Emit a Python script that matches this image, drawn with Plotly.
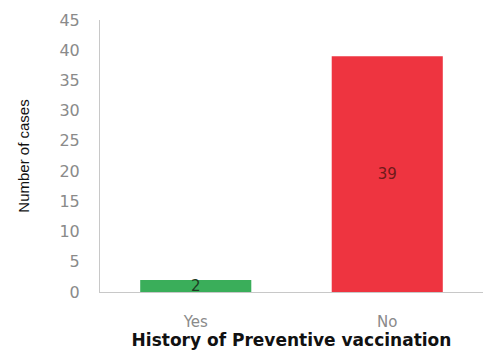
import plotly.graph_objects as go

categories = ["Yes", "No"]
cases = [2, 39]
bar_colors = ["#3aae5a", "#ee3440"]
label_colors = ["#1e3a22", "#6e1a1a"]
y_ticks = [0, 5, 10, 15, 20, 25, 30, 35, 40, 45]

fig = go.Figure(
    go.Bar(
        x=categories,
        y=cases,
        marker=dict(color=bar_colors, line=dict(width=0)),
        text=[str(v) for v in cases],
        textposition="inside",
        insidetextanchor="middle",
        textangle=0,
        constraintext="none",
        textfont=dict(family="DejaVu Sans", size=15, color=label_colors),
        cliponaxis=False,
    )
)

fig.update_layout(
    width=483,
    height=350,
    margin=dict(l=100, r=0, t=20, b=58),
    paper_bgcolor="white",
    plot_bgcolor="white",
    bargap=0.42,
    showlegend=False,
    xaxis=dict(
        showline=True,
        linecolor="#c8c8c8",
        linewidth=1,
        ticks="outside",
        ticklen=16,
        tickcolor="rgba(0,0,0,0)",
        tickfont=dict(family="DejaVu Sans", size=15, color="#8a8a8a"),
        title=dict(
            text="<b>History of Preventive vaccination</b>",
            font=dict(family="DejaVu Sans", size=17, color="#111111"),
            standoff=0,
        ),
    ),
    yaxis=dict(
        range=[0, 45],
        tickvals=y_ticks,
        showgrid=False,
        zeroline=False,
        showline=True,
        linecolor="#c8c8c8",
        linewidth=1,
        ticks="outside",
        ticklen=16,
        tickcolor="rgba(0,0,0,0)",
        tickfont=dict(family="DejaVu Sans", size=16, color="#8a8a8a"),
        title=dict(
            text="Number of cases",
            font=dict(family="Liberation Sans Narrow, Liberation Sans", size=15, color="#111111"),
            standoff=26,
        ),
    ),
)

fig.write_html("out.html")
